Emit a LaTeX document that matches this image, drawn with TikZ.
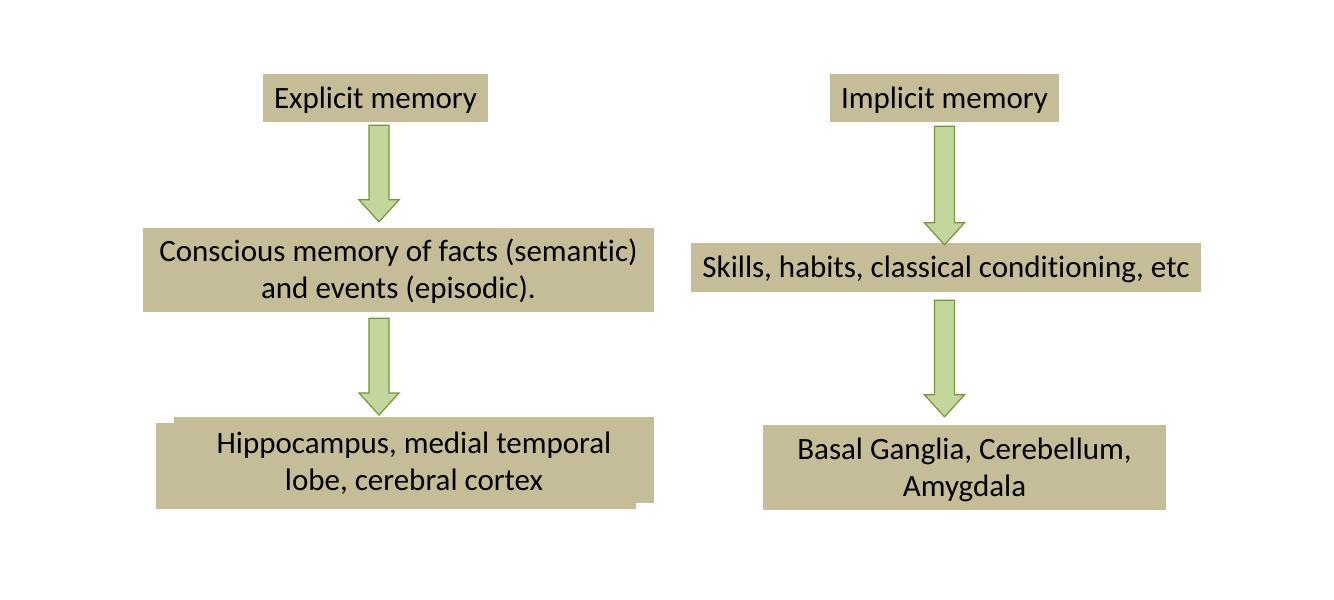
\documentclass[tikz,border=0pt]{standalone}
\usepackage{fontspec}
\setmainfont{Carlito}[Ligatures=NoCommon]
\usetikzlibrary{calc}
\definecolor{boxfill}{HTML}{C4BD97}
\definecolor{arrfill}{HTML}{C3D69B}
\definecolor{arrline}{HTML}{77933C}
\tikzset{
  memboxstyle/.style={fill=boxfill, draw=none, inner sep=0pt, font=\fontsize{31}{37}\selectfont},
  bigarrow/.style={fill=arrfill, draw=arrline, line width=1.2pt, line join=miter}
}
\newcommand\boxtext[1]{\raisebox{-3pt}[\height][\depth]{\begin{tabular}{@{}c@{}}#1\end{tabular}}}
\newcommand\fatdownarrow[2]{%
  \draw[bigarrow] ($(#1)+(-10,0)$) -- ($(#2)+(-10,-22)$) -- ($(#2)+(-20,-22)$) -- (#2)
    -- ($(#2)+(20,-22)$) -- ($(#2)+(10,-22)$) -- ($(#1)+(10,0)$) -- cycle;}
\begin{document}
\begin{tikzpicture}[x=1pt,y=-1pt]
\useasboundingbox (0,0) rectangle (1334,600);
% left column
\node[memboxstyle, minimum width=225, minimum height=48] (expl) at (375.5,98) {\boxtext{Explicit memory}};
\node[memboxstyle, minimum width=511, minimum height=84] (consc) at (398.5,270) {\boxtext{Conscious memory of facts (semantic)\\and events (episodic).}};
\fill[boxfill] (156,423) rectangle (636,509);
\fill[boxfill] (174,417) rectangle (654,503);
\node[memboxstyle, fill=none] (hippo) at (414,462) {\boxtext{Hippocampus, medial temporal\\lobe, cerebral cortex}};
% right column
\node[memboxstyle, minimum width=229, minimum height=48] (impl) at (944.5,98) {\boxtext{Implicit memory}};
\node[memboxstyle, minimum width=510, minimum height=49] (skill) at (946,267.5) {\boxtext{Skills, habits, classical conditioning, etc}};
\node[memboxstyle, minimum width=403, minimum height=85] (basal) at (964.5,467.5) {\boxtext{Basal Ganglia, Cerebellum,\\Amygdala}};
% arrows
\coordinate (a1s) at ($(expl.south)+(3.5,3)$);
\coordinate (a1e) at ($(consc.north)+(-19.5,-6)$);
\coordinate (a2s) at ($(consc.south)+(-19.5,6)$);
\coordinate (a2e) at (379,415);
\coordinate (a3s) at ($(impl.south)+(0,4)$);
\coordinate (a3e) at ($(skill.north)+(-1.5,2)$);
\coordinate (a4s) at ($(skill.south)+(-1.5,8)$);
\coordinate (a4e) at ($(basal.north)+(-20,-8)$);
\fatdownarrow{a1s}{a1e}
\fatdownarrow{a2s}{a2e}
\fatdownarrow{a3s}{a3e}
\fatdownarrow{a4s}{a4e}
\end{tikzpicture}
\end{document}
